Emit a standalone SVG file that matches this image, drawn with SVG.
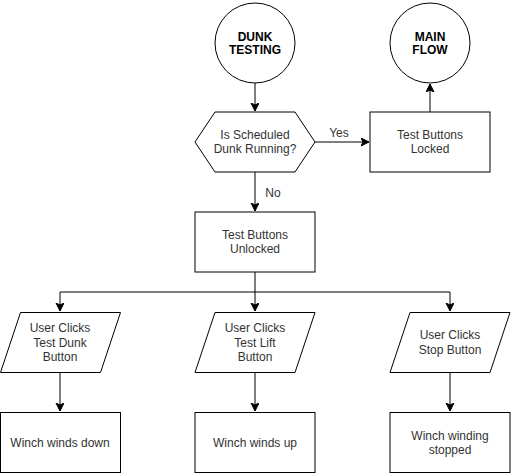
<svg xmlns="http://www.w3.org/2000/svg" width="511" height="473" viewBox="0 0 511 473">
<defs>
<marker id="arr" markerWidth="10" markerHeight="10" refX="8" refY="4" orient="auto" markerUnits="userSpaceOnUse">
<path d="M0,0 L8,4 L0,8 L2,4 z" fill="#000" stroke="#000" stroke-width="1"/>
</marker>
</defs>
<style>
.s{fill:#fff;stroke:#000;stroke-width:1}
.t{font-family:"Liberation Sans",Arial,Helvetica,sans-serif;font-size:12px;fill:#333;text-anchor:middle}
.b{font-weight:bold;fill:#000}
.c{fill:none;stroke:#000;stroke-width:1;marker-end:url(#arr)}
</style>
<rect width="511" height="473" fill="#fff"/>
<g id="connectors">
<path class="c" d="M255,83 V111"/>
<path class="c" d="M315,142 H369"/>
<path class="c" d="M430,112 V84"/>
<path class="c" d="M255,172 V211"/>
<path class="c" d="M255,272 V292 H60 V311"/>
<path class="c" d="M255,292 V311"/>
<path class="c" d="M255,292 H450 V311"/>
<path class="c" d="M60,372 V411"/>
<path class="c" d="M255,372 V411"/>
<path class="c" d="M450,372 V411"/>
<text class="t" x="339" y="137">Yes</text>
<text class="t" x="273" y="196.5">No</text>
</g>
<g id="dunk-testing">
<circle class="s" cx="255" cy="43" r="40"/>
<text class="t b" x="255" y="41">DUNK</text>
<text class="t b" x="255" y="54">TESTING</text>
</g>
<g id="main-flow">
<circle class="s" cx="430" cy="43" r="40"/>
<text class="t b" x="430" y="41">MAIN</text>
<text class="t b" x="430" y="54">FLOW</text>
</g>
<g id="decision">
<polygon class="s" points="195,142 215,112 295,112 315,142 295,172 215,172"/>
<text class="t" x="255" y="139">Is Scheduled</text>
<text class="t" x="255" y="153">Dunk Running?</text>
</g>
<g id="locked">
<rect class="s" x="370" y="112" width="120" height="60"/>
<text class="t" x="430" y="139">Test Buttons</text>
<text class="t" x="430" y="153">Locked</text>
</g>
<g id="unlocked">
<rect class="s" x="195" y="212" width="120" height="60"/>
<text class="t" x="255" y="239">Test Buttons</text>
<text class="t" x="255" y="253">Unlocked</text>
</g>
<g id="click-dunk">
<polygon class="s" points="20.5,312.5 120.5,312.5 100.5,372.5 0.5,372.5"/>
<text class="t" x="60" y="332">User Clicks</text>
<text class="t" x="60" y="346.5">Test Dunk</text>
<text class="t" x="60" y="360.5">Button</text>
</g>
<g id="click-lift">
<polygon class="s" points="215,312.5 315,312.5 295,372.5 195,372.5"/>
<text class="t" x="255" y="332">User Clicks</text>
<text class="t" x="255" y="346.5">Test Lift</text>
<text class="t" x="255" y="360.5">Button</text>
</g>
<g id="click-stop">
<polygon class="s" points="410,312.5 510,312.5 490,372.5 390,372.5"/>
<text class="t" x="450" y="339">User Clicks</text>
<text class="t" x="450" y="353.5">Stop Button</text>
</g>
<g id="winds-down">
<rect class="s" x="0.5" y="412.5" width="120" height="60"/>
<text class="t" x="60" y="446.5">Winch winds down</text>
</g>
<g id="winds-up">
<rect class="s" x="195" y="412.5" width="120" height="60"/>
<text class="t" x="255" y="446.5">Winch winds up</text>
</g>
<g id="stopped">
<rect class="s" x="390" y="412.5" width="120" height="60"/>
<text class="t" x="450" y="440">Winch winding</text>
<text class="t" x="450" y="454">stopped</text>
</g>
</svg>
